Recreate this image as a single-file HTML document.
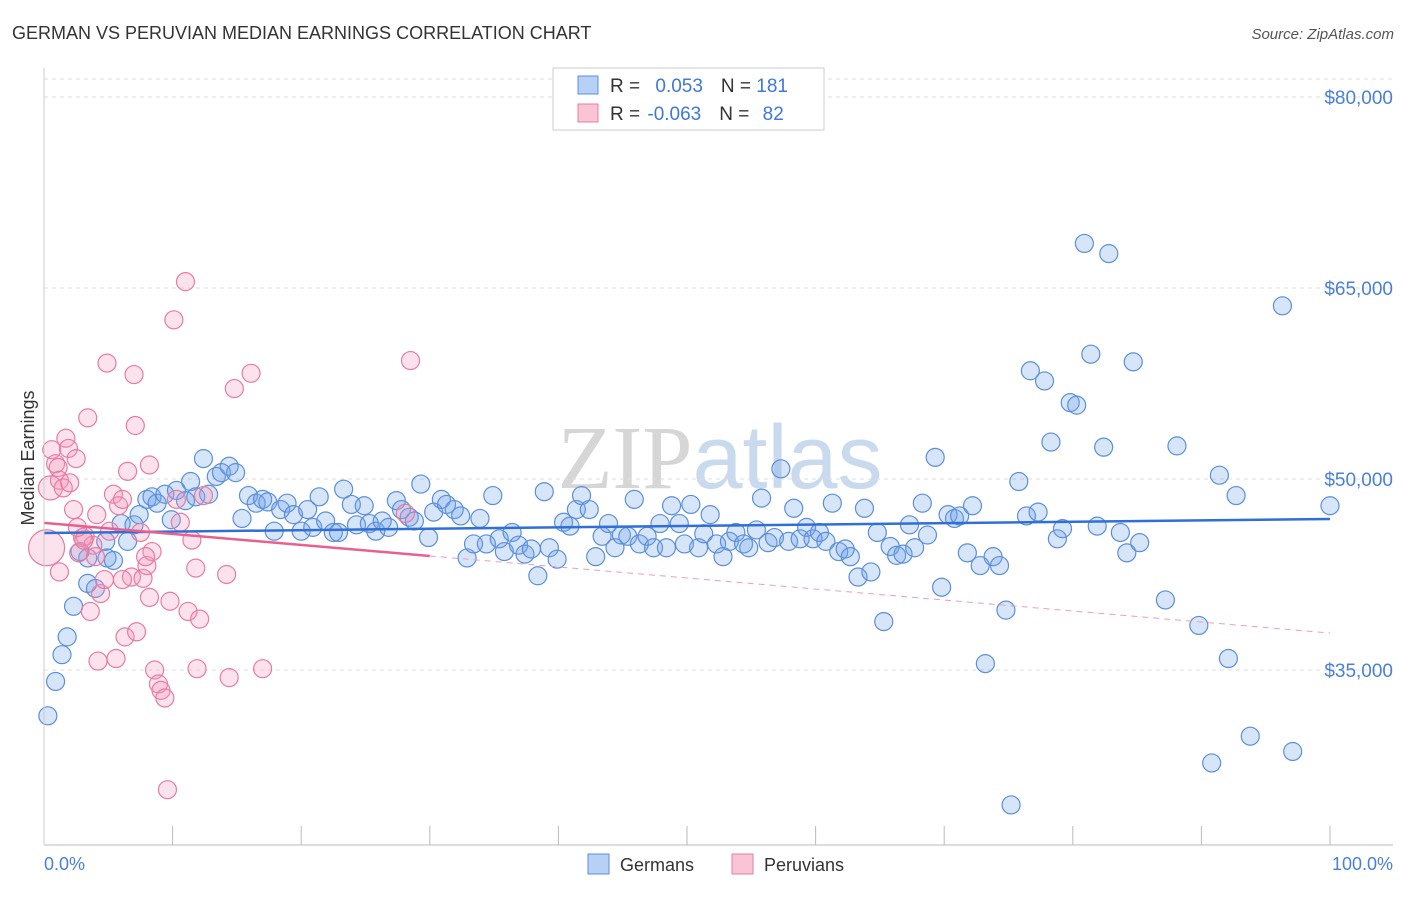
<!DOCTYPE html>
<html><head><meta charset="utf-8"><style>
body{margin:0;background:#fff;font-family:"Liberation Sans",sans-serif;}
svg text{font-family:"Liberation Sans",sans-serif;}
</style></head><body>
<svg id="chart" width="1406" height="892" xmlns="http://www.w3.org/2000/svg">
<text x="12" y="39" font-size="18" fill="#333">GERMAN VS PERUVIAN MEDIAN EARNINGS CORRELATION CHART</text>
<text x="1394" y="39" font-size="15" fill="#555" font-style="italic" text-anchor="end">Source: ZipAtlas.com</text>
<text x="720" y="488" font-size="90" fill="#dde3ea" text-anchor="middle"><tspan font-family="Liberation Serif" fill="#d6d6d6">ZIP</tspan><tspan fill="#c9d9ee">atlas</tspan></text>
<text x="34" y="458" font-size="18" fill="#333" text-anchor="middle" transform="rotate(-90 34 458)">Median Earnings</text>
<g id="grid"></g><g id="pts"></g><g id="trend"></g>
<line x1="44" y1="845" x2="1393" y2="845" stroke="#bbb"/>
<line x1="44" y1="68" x2="44" y2="845" stroke="#ccc"/>
<text x="44" y="870" font-size="18" fill="#4a80d8">0.0%</text>
<text x="1393" y="870" font-size="18" fill="#4a80d8" text-anchor="end">100.0%</text>
<g>
<rect x="553" y="68" width="271" height="62" fill="#fff" stroke="#ccc"/>
<rect x="578" y="76" width="20" height="18" fill="#b7d0f5" stroke="#5b8fdc"/>
<rect x="578" y="104" width="20" height="18" fill="#f9c5d5" stroke="#e87ca0"/>
<text x="610" y="92" font-size="19" fill="#333">R = <tspan fill="#3f78d6" dx="10">0.053</tspan><tspan dx="18">N = </tspan><tspan fill="#3f78d6">181</tspan></text>
<text x="610" y="120" font-size="19" fill="#333">R = <tspan fill="#3f78d6" dx="2">-0.063</tspan><tspan dx="18">N = </tspan><tspan fill="#3f78d6" dx="8">82</tspan></text>
</g>
<g>
<rect x="588" y="854" width="21" height="20" fill="#b7d0f5" stroke="#5b8fdc"/>
<text x="620" y="871" font-size="18" fill="#333">Germans</text>
<rect x="732" y="854" width="21" height="20" fill="#f9c5d5" stroke="#e87ca0"/>
<text x="764" y="871" font-size="18" fill="#333">Peruvians</text>
</g>
</svg>
<script>
const yTicks=[80,65,50,35];
const yTickLabels=["$80,000","$65,000","$50,000","$35,000"];
const xTicks=[0,10,20,30,40,50,60,70,80,90,100];
const germanX=[0.3,0.9,1.4,1.8,2.3,2.8,3.4,3.4,4.0,4.8,4.9,5.4,6.0,6.5,7.0,7.4,8.0,8.4,8.8,9.4,9.9,10.3,11.0,11.4,11.8,12.4,12.8,13.4,13.8,14.4,14.9,15.4,15.9,16.5,17.0,17.4,17.9,18.4,18.9,19.4,20.0,20.5,20.9,21.4,21.9,22.5,22.9,23.3,23.9,24.3,24.9,25.3,25.8,26.3,26.8,27.4,27.8,28.4,28.8,29.3,29.9,30.3,30.9,31.3,31.9,32.4,32.9,33.4,33.9,34.4,34.9,35.4,35.8,36.4,36.9,37.4,37.9,38.4,38.9,39.3,39.9,40.4,40.9,41.4,41.8,42.4,42.9,43.4,43.9,44.4,44.9,45.4,45.9,46.3,46.9,47.4,47.9,48.4,48.8,49.4,49.8,50.3,50.9,51.3,51.8,52.3,52.8,53.3,53.8,54.4,54.8,55.4,55.8,56.3,56.8,57.3,57.9,58.3,58.8,59.3,59.8,60.3,60.8,61.3,61.8,62.3,62.7,63.3,63.8,64.3,64.8,65.3,65.8,66.3,66.8,67.3,67.7,68.3,68.7,69.3,69.8,70.3,70.8,71.2,71.8,72.2,72.8,73.2,73.8,74.3,74.8,75.2,75.8,76.4,76.7,77.3,77.8,78.3,78.8,79.2,79.8,80.3,80.9,81.4,81.9,82.4,82.8,83.7,84.2,84.7,85.2,87.2,88.1,89.8,90.8,91.4,92.1,92.7,93.8,96.3,97.1,100.0];
const germanY=[31.4,34.1,36.2,37.6,40.0,44.3,41.8,43.8,41.4,45.1,43.8,43.6,46.5,45.1,46.4,47.2,48.4,48.6,48.1,48.8,46.8,49.1,48.3,49.8,48.6,51.6,48.8,50.2,50.5,51.0,50.5,46.9,48.7,48.1,48.4,48.2,45.9,47.6,48.1,47.2,45.9,47.6,46.2,48.6,46.7,45.8,45.8,49.2,48.0,46.4,47.9,46.5,45.9,46.7,46.2,48.3,47.6,47.0,46.7,49.6,45.4,47.4,48.4,48.0,47.6,47.1,43.8,44.9,46.9,44.9,48.7,45.3,44.3,45.8,44.8,44.1,44.5,42.4,49.0,44.6,43.7,46.6,46.3,47.6,48.7,47.6,43.9,45.5,46.5,44.6,45.6,45.5,48.4,44.9,45.5,44.6,46.5,44.6,47.9,46.5,44.9,48.0,44.6,45.7,47.2,44.9,43.9,45.1,45.8,44.9,44.6,46.0,48.5,45.0,45.4,50.8,45.1,47.7,45.3,46.2,45.3,45.8,45.1,48.1,44.3,44.5,43.9,42.3,47.7,42.7,45.8,38.8,44.7,44.0,44.1,46.4,44.6,48.1,45.6,51.7,41.5,47.2,46.9,47.1,44.2,47.9,43.2,35.5,43.9,43.2,39.7,24.4,49.8,47.1,58.5,47.4,57.7,52.9,45.3,46.1,56.0,55.8,68.5,59.8,46.3,52.5,67.7,45.8,44.2,59.2,45.0,40.5,52.6,38.5,27.7,50.3,35.9,48.7,29.8,63.6,28.6,47.9];
const peruvianX=[0.2,0.5,0.6,0.9,1.1,1.2,1.5,1.7,1.9,2.0,2.3,2.5,2.7,3.0,3.2,3.4,3.6,3.8,4.0,4.2,4.4,4.7,4.9,5.1,5.4,5.6,5.8,6.1,6.3,6.5,6.8,7.0,7.2,7.5,7.7,8.0,8.2,8.4,8.6,8.9,9.1,9.4,9.6,9.8,10.1,10.3,10.6,11.0,11.2,11.5,11.9,12.1,12.4,14.2,14.4,14.8,16.1,17.0,28.1,28.5,1.2,3.1,4.1,7.1,2.6,6.1,7.9,11.8,8.2];
const peruvianY=[44.6,49.3,52.3,51.2,50.9,49.9,49.3,53.2,52.4,49.7,47.6,51.6,44.2,45.4,45.5,54.8,39.6,44.8,43.9,35.7,41.0,42.1,59.1,45.9,48.8,35.9,47.9,48.4,37.6,50.6,42.3,58.2,38.0,45.8,42.2,43.2,51.1,44.3,35.0,33.9,33.4,32.8,25.6,40.4,62.5,48.4,46.6,65.5,39.6,45.2,35.1,39.0,48.7,42.5,34.4,57.1,58.3,35.1,47.3,59.3,42.7,45.2,47.2,54.2,46.2,42.1,43.9,43.0,40.7];
const germanTrend=[45.76,46.86];
const peruvianTrend=[46.55,37.9];
const NS="http://www.w3.org/2000/svg";
function xs(p){return 44+p*12.86;}
function ys(v){return 97+(80-v)*12.733;}
function mk(tag,attrs,parent){const e=document.createElementNS(NS,tag);for(const k in attrs)e.setAttribute(k,attrs[k]);parent.appendChild(e);return e;}
const grid=document.getElementById('grid'),pts=document.getElementById('pts'),tr=document.getElementById('trend');
mk('line',{x1:44,x2:1393,y1:79,y2:79,stroke:'#ddd','stroke-dasharray':'4,4'},grid);
yTicks.forEach((v,i)=>{
 const l=mk('line',{x1:44,x2:1393,y1:ys(v),y2:ys(v),stroke:'#ddd','stroke-dasharray':'4,4'},grid);
 
 
 const t=mk('text',{x:1393,y:ys(v)+7,'font-size':19,fill:'#4a80d8','text-anchor':'end'},grid);
 t.textContent=yTickLabels[i];
 
 
});
xTicks.forEach(p=>{
 const l=mk('line',{x1:xs(p),x2:xs(p),y1:826,y2:845,stroke:'#bbb'},grid);
 
 
});
germanX.forEach((p,i)=>{
 const c=mk('circle',{cx:xs(p),cy:ys(germanY[i]),r:9,fill:'rgba(110,160,235,0.28)',stroke:'#5b8fdc','stroke-width':1.2},pts);
 
 
});
peruvianX.forEach((p,i)=>{
 const big=i<2;
 const c=mk('circle',{cx:xs(p),cy:ys(peruvianY[i]),r:big?(i==0?18:12):9,fill:'rgba(245,150,185,0.28)',stroke:'#e87ca0','stroke-width':1.2},pts);
 
 
});
const g=mk('line',{x1:xs(0),y1:ys(germanTrend[0]),x2:xs(100),y2:ys(germanTrend[1]),stroke:'#2f6fd6','stroke-width':2.5},tr);


const pAt=p=>peruvianTrend[0]+(peruvianTrend[1]-peruvianTrend[0])*p/100;
const p1=mk('line',{x1:xs(0),y1:ys(pAt(0)),x2:xs(30),y2:ys(pAt(30)),stroke:'#e8608e','stroke-width':2.5},tr);


const p2=mk('line',{x1:xs(30),y1:ys(pAt(30)),x2:xs(100),y2:ys(pAt(100)),stroke:'#e8a0b8','stroke-width':1,'stroke-dasharray':'6,5'},tr);


</script>
</body></html>
